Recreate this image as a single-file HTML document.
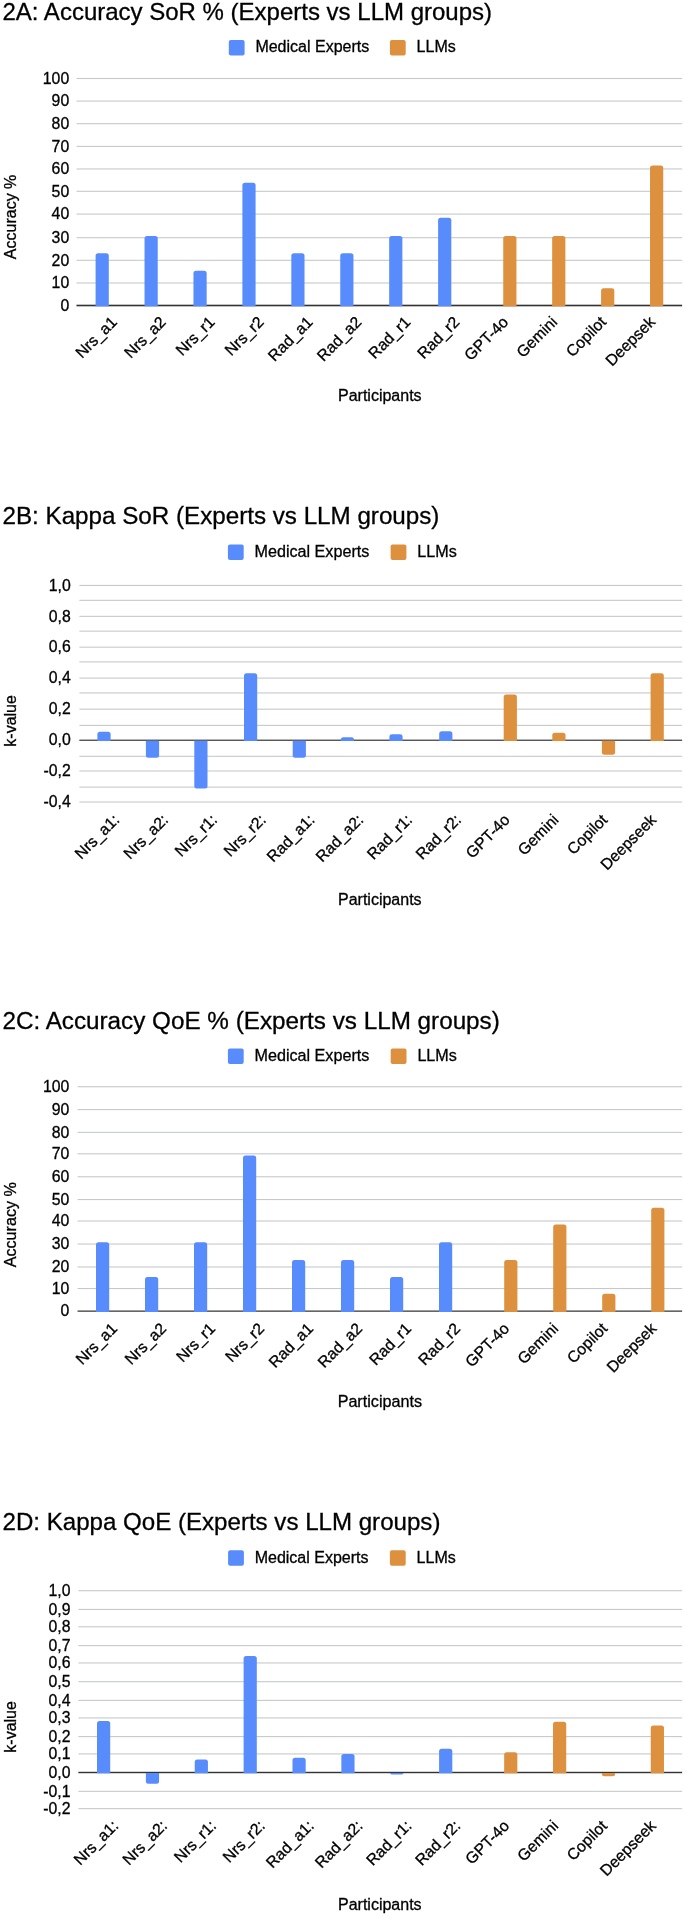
<!DOCTYPE html>
<html><head><meta charset="utf-8"><title>Figure 2</title>
<style>
html,body{margin:0;padding:0;background:#fff;}
svg{display:block;font-family:"Liberation Sans",Arial,sans-serif;filter:blur(0.35px);}
svg text{stroke:#000;stroke-width:0.3px;paint-order:stroke;}
</style></head><body>
<svg width="685" height="1917" viewBox="0 0 685 1917">
<rect width="685" height="1917" fill="#fff"/>
<text x="2.5" y="20.4" font-size="24" fill="#000000">2A: Accuracy SoR % (Experts vs LLM groups)</text>
<rect x="228.80" y="39.9" width="15.8" height="15.5" rx="2" fill="#588CFC"/>
<text x="255.40" y="52.40" font-size="16" fill="#000000">Medical Experts</text>
<rect x="389.90" y="39.9" width="15.8" height="15.5" rx="2" fill="#DD903E"/>
<text x="416.60" y="52.40" font-size="16" fill="#000000">LLMs</text>
<rect x="76.5" y="304.95" width="605.6" height="1.1" fill="#c6c9cb"/>
<text x="69.2" y="310.70" font-size="15.8" text-anchor="end" fill="#000000">0</text>
<rect x="76.5" y="282.45" width="605.6" height="1.1" fill="#c6c9cb"/>
<text x="69.2" y="288.20" font-size="15.8" text-anchor="end" fill="#000000">10</text>
<rect x="76.5" y="259.75" width="605.6" height="1.1" fill="#c6c9cb"/>
<text x="69.2" y="265.50" font-size="15.8" text-anchor="end" fill="#000000">20</text>
<rect x="76.5" y="237.15" width="605.6" height="1.1" fill="#c6c9cb"/>
<text x="69.2" y="242.90" font-size="15.8" text-anchor="end" fill="#000000">30</text>
<rect x="76.5" y="213.55" width="605.6" height="1.1" fill="#c6c9cb"/>
<text x="69.2" y="219.30" font-size="15.8" text-anchor="end" fill="#000000">40</text>
<rect x="76.5" y="190.75" width="605.6" height="1.1" fill="#c6c9cb"/>
<text x="69.2" y="196.50" font-size="15.8" text-anchor="end" fill="#000000">50</text>
<rect x="76.5" y="168.40" width="605.6" height="1.1" fill="#c6c9cb"/>
<text x="69.2" y="174.15" font-size="15.8" text-anchor="end" fill="#000000">60</text>
<rect x="76.5" y="145.85" width="605.6" height="1.1" fill="#c6c9cb"/>
<text x="69.2" y="151.60" font-size="15.8" text-anchor="end" fill="#000000">70</text>
<rect x="76.5" y="123.15" width="605.6" height="1.1" fill="#c6c9cb"/>
<text x="69.2" y="128.90" font-size="15.8" text-anchor="end" fill="#000000">80</text>
<rect x="76.5" y="100.55" width="605.6" height="1.1" fill="#c6c9cb"/>
<text x="69.2" y="106.30" font-size="15.8" text-anchor="end" fill="#000000">90</text>
<rect x="76.5" y="77.95" width="605.6" height="1.1" fill="#c6c9cb"/>
<text x="69.2" y="83.70" font-size="15.8" text-anchor="end" fill="#000000">100</text>
<rect x="76.5" y="304.70" width="605.6" height="1.6" fill="#333333"/>
<path d="M95.60,306.30V255.85Q95.60,253.35 98.10,253.35H106.30Q108.80,253.35 108.80,255.85V306.30Z" fill="#588CFC"/>
<path d="M144.53,306.30V238.38Q144.53,235.88 147.03,235.88H155.23Q157.73,235.88 157.73,238.38V306.30Z" fill="#588CFC"/>
<path d="M193.46,306.30V273.28Q193.46,270.78 195.96,270.78H204.16Q206.66,270.78 206.66,273.28V306.30Z" fill="#588CFC"/>
<path d="M242.39,306.30V185.20Q242.39,182.70 244.89,182.70H253.09Q255.59,182.70 255.59,185.20V306.30Z" fill="#588CFC"/>
<path d="M291.32,306.30V255.85Q291.32,253.35 293.82,253.35H302.02Q304.52,253.35 304.52,255.85V306.30Z" fill="#588CFC"/>
<path d="M340.25,306.30V255.85Q340.25,253.35 342.75,253.35H350.95Q353.45,253.35 353.45,255.85V306.30Z" fill="#588CFC"/>
<path d="M389.18,306.30V238.38Q389.18,235.88 391.68,235.88H399.88Q402.38,235.88 402.38,238.38V306.30Z" fill="#588CFC"/>
<path d="M438.11,306.30V220.23Q438.11,217.73 440.61,217.73H448.81Q451.31,217.73 451.31,220.23V306.30Z" fill="#588CFC"/>
<path d="M503.24,306.30V238.38Q503.24,235.88 505.74,235.88H513.94Q516.44,235.88 516.44,238.38V306.30Z" fill="#DD903E"/>
<path d="M552.17,306.30V238.38Q552.17,235.88 554.67,235.88H562.87Q565.37,235.88 565.37,238.38V306.30Z" fill="#DD903E"/>
<path d="M601.10,306.30V290.69Q601.10,288.19 603.60,288.19H611.80Q614.30,288.19 614.30,290.69V306.30Z" fill="#DD903E"/>
<path d="M650.03,306.30V167.98Q650.03,165.48 652.53,165.48H660.73Q663.23,165.48 663.23,167.98V306.30Z" fill="#DD903E"/>
<text transform="translate(117.90,323.00) rotate(-45)" font-size="15.8" text-anchor="end" fill="#000000">Nrs_a1</text>
<text transform="translate(166.83,323.00) rotate(-45)" font-size="15.8" text-anchor="end" fill="#000000">Nrs_a2</text>
<text transform="translate(215.76,323.00) rotate(-45)" font-size="15.8" text-anchor="end" fill="#000000">Nrs_r1</text>
<text transform="translate(264.69,323.00) rotate(-45)" font-size="15.8" text-anchor="end" fill="#000000">Nrs_r2</text>
<text transform="translate(313.62,323.00) rotate(-45)" font-size="15.8" text-anchor="end" fill="#000000">Rad_a1</text>
<text transform="translate(362.55,323.00) rotate(-45)" font-size="15.8" text-anchor="end" fill="#000000">Rad_a2</text>
<text transform="translate(411.48,323.00) rotate(-45)" font-size="15.8" text-anchor="end" fill="#000000">Rad_r1</text>
<text transform="translate(460.41,323.00) rotate(-45)" font-size="15.8" text-anchor="end" fill="#000000">Rad_r2</text>
<text transform="translate(509.34,323.00) rotate(-45)" font-size="15.8" text-anchor="end" fill="#000000">GPT-4o</text>
<text transform="translate(558.27,323.00) rotate(-45)" font-size="15.8" text-anchor="end" fill="#000000">Gemini</text>
<text transform="translate(607.20,323.00) rotate(-45)" font-size="15.8" text-anchor="end" fill="#000000">Copilot</text>
<text transform="translate(656.13,323.00) rotate(-45)" font-size="15.8" text-anchor="end" fill="#000000">Deepsek</text>
<text x="379.8" y="400.7" font-size="16" text-anchor="middle" fill="#000000">Participants</text>
<text transform="translate(15.7,216.9) rotate(-90)" font-size="16" text-anchor="middle" fill="#000000">Accuracy %</text>
<text x="2.5" y="524.4" font-size="24.2" fill="#000000">2B: Kappa SoR (Experts vs LLM groups)</text>
<rect x="227.90" y="544.5" width="15.8" height="15.5" rx="2" fill="#588CFC"/>
<text x="254.50" y="557.00" font-size="16.15" fill="#000000">Medical Experts</text>
<rect x="390.60" y="544.5" width="15.8" height="15.5" rx="2" fill="#DD903E"/>
<text x="417.30" y="557.00" font-size="16.15" fill="#000000">LLMs</text>
<rect x="79.4" y="786.57" width="602.7" height="1.1" fill="#c6c9cb"/>
<rect x="79.4" y="755.75" width="602.7" height="1.1" fill="#c6c9cb"/>
<rect x="79.4" y="724.84" width="602.7" height="1.1" fill="#c6c9cb"/>
<rect x="79.4" y="692.40" width="602.7" height="1.1" fill="#c6c9cb"/>
<rect x="79.4" y="661.34" width="602.7" height="1.1" fill="#c6c9cb"/>
<rect x="79.4" y="630.60" width="602.7" height="1.1" fill="#c6c9cb"/>
<rect x="79.4" y="599.78" width="602.7" height="1.1" fill="#c6c9cb"/>
<rect x="79.4" y="801.46" width="602.7" height="1.1" fill="#c6c9cb"/>
<text x="70.7" y="807.21" font-size="15.8" text-anchor="end" fill="#000000">-0,4</text>
<rect x="79.4" y="770.46" width="602.7" height="1.1" fill="#c6c9cb"/>
<text x="70.7" y="776.21" font-size="15.8" text-anchor="end" fill="#000000">-0,2</text>
<rect x="79.4" y="739.73" width="602.7" height="1.1" fill="#c6c9cb"/>
<text x="70.7" y="745.48" font-size="15.8" text-anchor="end" fill="#000000">0,0</text>
<rect x="79.4" y="708.64" width="602.7" height="1.1" fill="#c6c9cb"/>
<text x="70.7" y="714.39" font-size="15.8" text-anchor="end" fill="#000000">0,2</text>
<rect x="79.4" y="677.54" width="602.7" height="1.1" fill="#c6c9cb"/>
<text x="70.7" y="683.29" font-size="15.8" text-anchor="end" fill="#000000">0,4</text>
<rect x="79.4" y="646.63" width="602.7" height="1.1" fill="#c6c9cb"/>
<text x="70.7" y="652.38" font-size="15.8" text-anchor="end" fill="#000000">0,6</text>
<rect x="79.4" y="615.80" width="602.7" height="1.1" fill="#c6c9cb"/>
<text x="70.7" y="621.55" font-size="15.8" text-anchor="end" fill="#000000">0,8</text>
<rect x="79.4" y="584.89" width="602.7" height="1.1" fill="#c6c9cb"/>
<text x="70.7" y="590.64" font-size="15.8" text-anchor="end" fill="#000000">1,0</text>
<rect x="79.4" y="739.63" width="602.7" height="1.3" fill="#505050"/>
<path d="M97.40,740.93V734.29Q97.40,731.79 99.90,731.79H108.10Q110.60,731.79 110.60,734.29V740.93Z" fill="#588CFC"/>
<path d="M145.90,740.73V755.27Q145.90,757.77 148.40,757.77H156.60Q159.10,757.77 159.10,755.27V740.73Z" fill="#588CFC"/>
<path d="M194.30,740.73V786.11Q194.30,788.61 196.80,788.61H205.00Q207.50,788.61 207.50,786.11V740.73Z" fill="#588CFC"/>
<path d="M244.00,740.93V675.73Q244.00,673.23 246.50,673.23H254.70Q257.20,673.23 257.20,675.73V740.93Z" fill="#588CFC"/>
<path d="M292.70,740.73V755.27Q292.70,757.77 295.20,757.77H303.40Q305.90,757.77 305.90,755.27V740.73Z" fill="#588CFC"/>
<path d="M340.80,740.93V739.80Q340.80,737.30 343.30,737.30H351.50Q354.00,737.30 354.00,739.80V740.93Z" fill="#588CFC"/>
<path d="M389.40,740.93V736.82Q389.40,734.32 391.90,734.32H400.10Q402.60,734.32 402.60,736.82V740.93Z" fill="#588CFC"/>
<path d="M439.20,740.93V733.85Q439.20,731.35 441.70,731.35H449.90Q452.40,731.35 452.40,733.85V740.93Z" fill="#588CFC"/>
<path d="M503.70,740.93V697.07Q503.70,694.57 506.20,694.57H514.40Q516.90,694.57 516.90,697.07V740.93Z" fill="#DD903E"/>
<path d="M552.30,740.93V735.34Q552.30,732.84 554.80,732.84H563.00Q565.50,732.84 565.50,735.34V740.93Z" fill="#DD903E"/>
<path d="M601.90,740.73V752.20Q601.90,754.70 604.40,754.70H612.60Q615.10,754.70 615.10,752.20V740.73Z" fill="#DD903E"/>
<path d="M650.60,740.93V675.73Q650.60,673.23 653.10,673.23H661.30Q663.80,673.23 663.80,675.73V740.93Z" fill="#DD903E"/>
<text transform="translate(120.40,820.80) rotate(-45)" font-size="15.8" text-anchor="end" fill="#000000">Nrs_a1:</text>
<text transform="translate(169.20,820.80) rotate(-45)" font-size="15.8" text-anchor="end" fill="#000000">Nrs_a2:</text>
<text transform="translate(218.00,820.80) rotate(-45)" font-size="15.8" text-anchor="end" fill="#000000">Nrs_r1:</text>
<text transform="translate(266.80,820.80) rotate(-45)" font-size="15.8" text-anchor="end" fill="#000000">Nrs_r2:</text>
<text transform="translate(315.60,820.80) rotate(-45)" font-size="15.8" text-anchor="end" fill="#000000">Rad_a1:</text>
<text transform="translate(364.40,820.80) rotate(-45)" font-size="15.8" text-anchor="end" fill="#000000">Rad_a2:</text>
<text transform="translate(413.20,820.80) rotate(-45)" font-size="15.8" text-anchor="end" fill="#000000">Rad_r1:</text>
<text transform="translate(462.00,820.80) rotate(-45)" font-size="15.8" text-anchor="end" fill="#000000">Rad_r2:</text>
<text transform="translate(510.80,820.80) rotate(-45)" font-size="15.8" text-anchor="end" fill="#000000">GPT-4o</text>
<text transform="translate(559.60,820.80) rotate(-45)" font-size="15.8" text-anchor="end" fill="#000000">Gemini</text>
<text transform="translate(608.40,820.80) rotate(-45)" font-size="15.8" text-anchor="end" fill="#000000">Copilot</text>
<text transform="translate(657.20,820.80) rotate(-45)" font-size="15.8" text-anchor="end" fill="#000000">Deepseek</text>
<text x="379.8" y="904.7" font-size="16" text-anchor="middle" fill="#000000">Participants</text>
<text transform="translate(15.7,720.9) rotate(-90)" font-size="16" text-anchor="middle" fill="#000000">k-value</text>
<text x="2.5" y="1029.2" font-size="24.25" fill="#000000">2C: Accuracy QoE % (Experts vs LLM groups)</text>
<rect x="227.90" y="1048.6" width="15.8" height="15.5" rx="2" fill="#588CFC"/>
<text x="254.50" y="1061.10" font-size="16.15" fill="#000000">Medical Experts</text>
<rect x="390.70" y="1048.6" width="15.8" height="15.5" rx="2" fill="#DD903E"/>
<text x="417.40" y="1061.10" font-size="16.15" fill="#000000">LLMs</text>
<rect x="77.6" y="1310.65" width="604.5" height="1.1" fill="#c6c9cb"/>
<text x="69.4" y="1316.40" font-size="15.8" text-anchor="end" fill="#000000">0</text>
<rect x="77.6" y="1287.97" width="604.5" height="1.1" fill="#c6c9cb"/>
<text x="69.4" y="1293.72" font-size="15.8" text-anchor="end" fill="#000000">10</text>
<rect x="77.6" y="1266.43" width="604.5" height="1.1" fill="#c6c9cb"/>
<text x="69.4" y="1272.18" font-size="15.8" text-anchor="end" fill="#000000">20</text>
<rect x="77.6" y="1243.49" width="604.5" height="1.1" fill="#c6c9cb"/>
<text x="69.4" y="1249.24" font-size="15.8" text-anchor="end" fill="#000000">30</text>
<rect x="77.6" y="1220.45" width="604.5" height="1.1" fill="#c6c9cb"/>
<text x="69.4" y="1226.20" font-size="15.8" text-anchor="end" fill="#000000">40</text>
<rect x="77.6" y="1198.99" width="604.5" height="1.1" fill="#c6c9cb"/>
<text x="69.4" y="1204.74" font-size="15.8" text-anchor="end" fill="#000000">50</text>
<rect x="77.6" y="1176.21" width="604.5" height="1.1" fill="#c6c9cb"/>
<text x="69.4" y="1181.96" font-size="15.8" text-anchor="end" fill="#000000">60</text>
<rect x="77.6" y="1153.27" width="604.5" height="1.1" fill="#c6c9cb"/>
<text x="69.4" y="1159.02" font-size="15.8" text-anchor="end" fill="#000000">70</text>
<rect x="77.6" y="1131.81" width="604.5" height="1.1" fill="#c6c9cb"/>
<text x="69.4" y="1137.56" font-size="15.8" text-anchor="end" fill="#000000">80</text>
<rect x="77.6" y="1109.05" width="604.5" height="1.1" fill="#c6c9cb"/>
<text x="69.4" y="1114.80" font-size="15.8" text-anchor="end" fill="#000000">90</text>
<rect x="77.6" y="1086.19" width="604.5" height="1.1" fill="#c6c9cb"/>
<text x="69.4" y="1091.94" font-size="15.8" text-anchor="end" fill="#000000">100</text>
<rect x="77.6" y="1310.40" width="604.5" height="1.6" fill="#666"/>
<path d="M96.00,1312.00V1244.77Q96.00,1242.27 98.50,1242.27H106.70Q109.20,1242.27 109.20,1244.77V1312.00Z" fill="#588CFC"/>
<path d="M145.00,1312.00V1279.42Q145.00,1276.92 147.50,1276.92H155.70Q158.20,1276.92 158.20,1279.42V1312.00Z" fill="#588CFC"/>
<path d="M194.00,1312.00V1244.77Q194.00,1242.27 196.50,1242.27H204.70Q207.20,1242.27 207.20,1244.77V1312.00Z" fill="#588CFC"/>
<path d="M243.00,1312.00V1158.08Q243.00,1155.58 245.50,1155.58H253.70Q256.20,1155.58 256.20,1158.08V1312.00Z" fill="#588CFC"/>
<path d="M292.00,1312.00V1262.42Q292.00,1259.92 294.50,1259.92H302.70Q305.20,1259.92 305.20,1262.42V1312.00Z" fill="#588CFC"/>
<path d="M341.00,1312.00V1262.42Q341.00,1259.92 343.50,1259.92H351.70Q354.20,1259.92 354.20,1262.42V1312.00Z" fill="#588CFC"/>
<path d="M390.00,1312.00V1279.42Q390.00,1276.92 392.50,1276.92H400.70Q403.20,1276.92 403.20,1279.42V1312.00Z" fill="#588CFC"/>
<path d="M439.00,1312.00V1244.77Q439.00,1242.27 441.50,1242.27H449.70Q452.20,1242.27 452.20,1244.77V1312.00Z" fill="#588CFC"/>
<path d="M504.20,1312.00V1262.42Q504.20,1259.92 506.70,1259.92H514.90Q517.40,1259.92 517.40,1262.42V1312.00Z" fill="#DD903E"/>
<path d="M553.20,1312.00V1227.04Q553.20,1224.54 555.70,1224.54H563.90Q566.40,1224.54 566.40,1227.04V1312.00Z" fill="#DD903E"/>
<path d="M602.20,1312.00V1296.25Q602.20,1293.75 604.70,1293.75H612.90Q615.40,1293.75 615.40,1296.25V1312.00Z" fill="#DD903E"/>
<path d="M651.20,1312.00V1210.29Q651.20,1207.79 653.70,1207.79H661.90Q664.40,1207.79 664.40,1210.29V1312.00Z" fill="#DD903E"/>
<text transform="translate(118.30,1329.50) rotate(-45)" font-size="15.8" text-anchor="end" fill="#000000">Nrs_a1</text>
<text transform="translate(167.30,1329.50) rotate(-45)" font-size="15.8" text-anchor="end" fill="#000000">Nrs_a2</text>
<text transform="translate(216.30,1329.50) rotate(-45)" font-size="15.8" text-anchor="end" fill="#000000">Nrs_r1</text>
<text transform="translate(265.30,1329.50) rotate(-45)" font-size="15.8" text-anchor="end" fill="#000000">Nrs_r2</text>
<text transform="translate(314.30,1329.50) rotate(-45)" font-size="15.8" text-anchor="end" fill="#000000">Rad_a1</text>
<text transform="translate(363.30,1329.50) rotate(-45)" font-size="15.8" text-anchor="end" fill="#000000">Rad_a2</text>
<text transform="translate(412.30,1329.50) rotate(-45)" font-size="15.8" text-anchor="end" fill="#000000">Rad_r1</text>
<text transform="translate(461.30,1329.50) rotate(-45)" font-size="15.8" text-anchor="end" fill="#000000">Rad_r2</text>
<text transform="translate(510.30,1329.50) rotate(-45)" font-size="15.8" text-anchor="end" fill="#000000">GPT-4o</text>
<text transform="translate(559.30,1329.50) rotate(-45)" font-size="15.8" text-anchor="end" fill="#000000">Gemini</text>
<text transform="translate(608.30,1329.50) rotate(-45)" font-size="15.8" text-anchor="end" fill="#000000">Copilot</text>
<text transform="translate(657.30,1329.50) rotate(-45)" font-size="15.8" text-anchor="end" fill="#000000">Deepsek</text>
<text x="379.8" y="1407.1" font-size="16.15" text-anchor="middle" fill="#000000">Participants</text>
<text transform="translate(15.7,1224.7) rotate(-90)" font-size="16.15" text-anchor="middle" fill="#000000">Accuracy %</text>
<text x="2.5" y="1529.8" font-size="24.1" fill="#000000">2D: Kappa QoE (Experts vs LLM groups)</text>
<rect x="228.10" y="1550.3" width="15.8" height="15.5" rx="2" fill="#588CFC"/>
<text x="254.70" y="1562.80" font-size="16" fill="#000000">Medical Experts</text>
<rect x="389.90" y="1550.3" width="15.8" height="15.5" rx="2" fill="#DD903E"/>
<text x="416.60" y="1562.80" font-size="16" fill="#000000">LLMs</text>
<rect x="78.4" y="1808.11" width="603.7" height="1.1" fill="#c6c9cb"/>
<text x="70.5" y="1813.86" font-size="15.8" text-anchor="end" fill="#000000">-0,2</text>
<rect x="78.4" y="1790.77" width="603.7" height="1.1" fill="#c6c9cb"/>
<text x="70.5" y="1796.52" font-size="15.8" text-anchor="end" fill="#000000">-0,1</text>
<rect x="78.4" y="1771.95" width="603.7" height="1.1" fill="#c6c9cb"/>
<text x="70.5" y="1777.70" font-size="15.8" text-anchor="end" fill="#000000">0,0</text>
<rect x="78.4" y="1753.38" width="603.7" height="1.1" fill="#c6c9cb"/>
<text x="70.5" y="1759.13" font-size="15.8" text-anchor="end" fill="#000000">0,1</text>
<rect x="78.4" y="1736.04" width="603.7" height="1.1" fill="#c6c9cb"/>
<text x="70.5" y="1741.79" font-size="15.8" text-anchor="end" fill="#000000">0,2</text>
<rect x="78.4" y="1717.39" width="603.7" height="1.1" fill="#c6c9cb"/>
<text x="70.5" y="1723.14" font-size="15.8" text-anchor="end" fill="#000000">0,3</text>
<rect x="78.4" y="1699.85" width="603.7" height="1.1" fill="#c6c9cb"/>
<text x="70.5" y="1705.60" font-size="15.8" text-anchor="end" fill="#000000">0,4</text>
<rect x="78.4" y="1681.14" width="603.7" height="1.1" fill="#c6c9cb"/>
<text x="70.5" y="1686.89" font-size="15.8" text-anchor="end" fill="#000000">0,5</text>
<rect x="78.4" y="1662.40" width="603.7" height="1.1" fill="#c6c9cb"/>
<text x="70.5" y="1668.15" font-size="15.8" text-anchor="end" fill="#000000">0,6</text>
<rect x="78.4" y="1645.06" width="603.7" height="1.1" fill="#c6c9cb"/>
<text x="70.5" y="1650.81" font-size="15.8" text-anchor="end" fill="#000000">0,7</text>
<rect x="78.4" y="1626.23" width="603.7" height="1.1" fill="#c6c9cb"/>
<text x="70.5" y="1631.98" font-size="15.8" text-anchor="end" fill="#000000">0,8</text>
<rect x="78.4" y="1608.90" width="603.7" height="1.1" fill="#c6c9cb"/>
<text x="70.5" y="1614.65" font-size="15.8" text-anchor="end" fill="#000000">0,9</text>
<rect x="78.4" y="1590.16" width="603.7" height="1.1" fill="#c6c9cb"/>
<text x="70.5" y="1595.91" font-size="15.8" text-anchor="end" fill="#000000">1,0</text>
<rect x="78.4" y="1771.80" width="603.7" height="1.4" fill="#333333"/>
<path d="M97.00,1773.20V1723.61Q97.00,1721.11 99.50,1721.11H107.70Q110.20,1721.11 110.20,1723.61V1773.20Z" fill="#588CFC"/>
<path d="M145.87,1773.00V1781.29Q145.87,1783.79 148.37,1783.79H156.57Q159.07,1783.79 159.07,1781.29V1773.00Z" fill="#588CFC"/>
<path d="M194.74,1773.20V1762.00Q194.74,1759.50 197.24,1759.50H205.44Q207.94,1759.50 207.94,1762.00V1773.20Z" fill="#588CFC"/>
<path d="M243.61,1773.20V1658.51Q243.61,1656.01 246.11,1656.01H254.31Q256.81,1656.01 256.81,1658.51V1773.20Z" fill="#588CFC"/>
<path d="M292.48,1773.20V1760.14Q292.48,1757.64 294.98,1757.64H303.18Q305.68,1757.64 305.68,1760.14V1773.20Z" fill="#588CFC"/>
<path d="M341.35,1773.20V1756.43Q341.35,1753.93 343.85,1753.93H352.05Q354.55,1753.93 354.55,1756.43V1773.20Z" fill="#588CFC"/>
<path d="M390.22,1773.00V1773.00Q390.22,1774.38 391.60,1774.38H402.04Q403.42,1774.38 403.42,1773.00V1773.00Z" fill="#588CFC"/>
<path d="M439.09,1773.20V1751.23Q439.09,1748.73 441.59,1748.73H449.79Q452.29,1748.73 452.29,1751.23V1773.20Z" fill="#588CFC"/>
<path d="M504.16,1773.20V1754.70Q504.16,1752.20 506.66,1752.20H514.86Q517.36,1752.20 517.36,1754.70V1773.20Z" fill="#DD903E"/>
<path d="M553.03,1773.20V1724.17Q553.03,1721.67 555.53,1721.67H563.73Q566.23,1721.67 566.23,1724.17V1773.20Z" fill="#DD903E"/>
<path d="M601.90,1773.00V1773.76Q601.90,1776.26 604.40,1776.26H612.60Q615.10,1776.26 615.10,1773.76V1773.00Z" fill="#DD903E"/>
<path d="M650.77,1773.20V1727.90Q650.77,1725.40 653.27,1725.40H661.47Q663.97,1725.40 663.97,1727.90V1773.20Z" fill="#DD903E"/>
<text transform="translate(119.30,1826.80) rotate(-45)" font-size="15.8" text-anchor="end" fill="#000000">Nrs_a1:</text>
<text transform="translate(168.17,1826.80) rotate(-45)" font-size="15.8" text-anchor="end" fill="#000000">Nrs_a2:</text>
<text transform="translate(217.04,1826.80) rotate(-45)" font-size="15.8" text-anchor="end" fill="#000000">Nrs_r1:</text>
<text transform="translate(265.91,1826.80) rotate(-45)" font-size="15.8" text-anchor="end" fill="#000000">Nrs_r2:</text>
<text transform="translate(314.78,1826.80) rotate(-45)" font-size="15.8" text-anchor="end" fill="#000000">Rad_a1:</text>
<text transform="translate(363.65,1826.80) rotate(-45)" font-size="15.8" text-anchor="end" fill="#000000">Rad_a2:</text>
<text transform="translate(412.52,1826.80) rotate(-45)" font-size="15.8" text-anchor="end" fill="#000000">Rad_r1:</text>
<text transform="translate(461.39,1826.80) rotate(-45)" font-size="15.8" text-anchor="end" fill="#000000">Rad_r2:</text>
<text transform="translate(510.26,1826.80) rotate(-45)" font-size="15.8" text-anchor="end" fill="#000000">GPT-4o</text>
<text transform="translate(559.13,1826.80) rotate(-45)" font-size="15.8" text-anchor="end" fill="#000000">Gemini</text>
<text transform="translate(608.00,1826.80) rotate(-45)" font-size="15.8" text-anchor="end" fill="#000000">Copilot</text>
<text transform="translate(656.87,1826.80) rotate(-45)" font-size="15.8" text-anchor="end" fill="#000000">Deepseek</text>
<text x="379.8" y="1910.2" font-size="16" text-anchor="middle" fill="#000000">Participants</text>
<text transform="translate(15.7,1726.9) rotate(-90)" font-size="16" text-anchor="middle" fill="#000000">k-value</text>
</svg>
</body></html>
